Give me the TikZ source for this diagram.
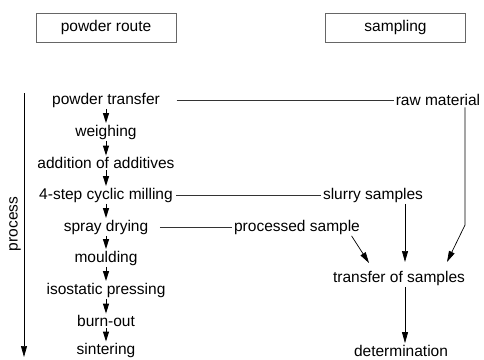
\documentclass[tikz,border=0pt]{standalone}
\usepackage{fontspec}
\setmainfont{Liberation Sans}
\usetikzlibrary{arrows.meta}
\begin{document}
\begin{tikzpicture}[x=1pt,y=-1pt,
  lbl/.style={font=\fontsize{15.5}{18}\selectfont, inner sep=1.5pt},
  hbox/.style={draw=black!60, line width=0.7pt, minimum width=140pt, minimum height=29pt, font=\fontsize{15.5}{18}\selectfont},
  parrow/.style={line width=1pt, -{Triangle[width=6pt,length=10pt]}},
  conn/.style={line width=0.7pt, black!80},
  sarrow/.style={line width=0.7pt, -{Triangle[width=6pt,length=11pt]}}]
\useasboundingbox (0,0) rectangle (484,359);
% header boxes
\node[hbox] (hpr) at (106,27.5) {powder route};
\node[hbox] (hsa) at (395.5,27.5) {sampling};
% process nodes
\node[lbl] (n1) at (106,100) {powder transfer};
\node[lbl] (n2) at (106,132) {weighing};
\node[lbl] (n3) at (106,163) {addition of additives};
\node[lbl] (n4) at (106,195) {4-step cyclic milling};
\node[lbl] (n5) at (106,227) {spray drying};
\node[lbl] (n6) at (106,258) {moulding};
\node[lbl] (n7) at (106,290) {isostatic pressing};
\node[lbl] (n8) at (106,321) {burn-out};
\node[lbl] (n9) at (106,350.5) {sintering};
\foreach \a/\b in {n1/n2,n2/n3,n3/n4,n4/n5,n5/n6,n6/n7,n7/n8,n8/n9}
  \draw[parrow] (\a) -- (\b);
% process axis
\coordinate (pt) at (24,93);
\coordinate (pb) at (24,357);
\draw[line width=0.7pt, -{Triangle[width=6pt,length=11pt]}] (pt) -- (pb);
\node[lbl, rotate=90] (plab) at (15,224) {process};
% sampling nodes
\node[lbl] (raw) at (438,100) {raw material};
\node[lbl] (slu) at (373,195) {slurry samples};
\node[lbl] (pro) at (297,227) {processed sample};
\node[lbl] (tra) at (399,278) {transfer of samples};
\node[lbl] (det) at (401,350.5) {determination};
% connectors
\draw[conn] (n1.east) ++(15,0) coordinate (c1) -- (raw.west);
\draw[conn] (n4.east) ++(2,0) coordinate (c4) -- (slu.west);
\draw[conn] (n5.east) ++(10,0) coordinate (c5) -- (pro.west);
\coordinate (rb) at (465,225);
\draw[sarrow] (raw.south -| rb) -- (rb) -- (447,262);
\draw[sarrow] (slu.south -| 405,0) -- (405,262);
\draw[sarrow] (pro.south east) ++(-10,0) -- (369,263);
\draw[sarrow] (tra.south -| 405,0) -- (det.north -| 405,0);
\end{tikzpicture}
\end{document}
